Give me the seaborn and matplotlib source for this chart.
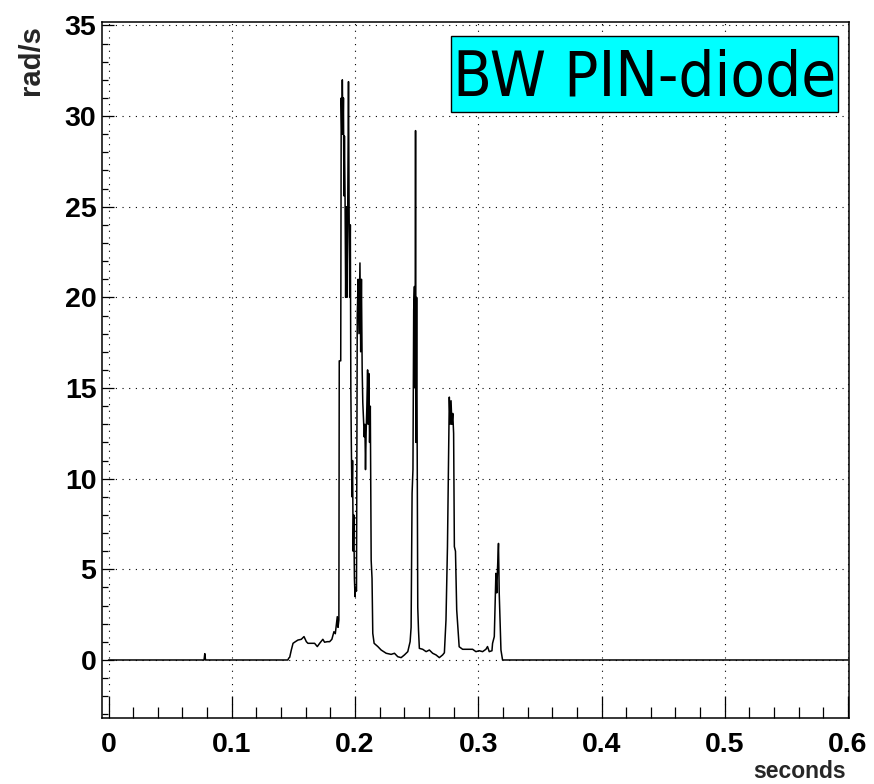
import matplotlib
matplotlib.use("Agg")
import matplotlib.pyplot as plt
from matplotlib.ticker import MultipleLocator, FixedLocator
from matplotlib.patches import Rectangle
import seaborn as sns
import pandas as pd

# ---- data ----
time_s = [
    0.000, 0.0775, 0.0781, 0.0787, 0.1455, 0.1462, 0.1470, 0.1483, 0.1497, 0.1516,
    0.1537, 0.1564, 0.1586, 0.1605, 0.1618, 0.1650, 0.1672, 0.1694, 0.1713, 0.1739,
    0.1753, 0.1775, 0.1794, 0.1812, 0.1829, 0.1840, 0.1848, 0.1856, 0.1862, 0.1869,
    0.1872, 0.1884, 0.1888, 0.1893, 0.1897, 0.1902, 0.1906, 0.1910, 0.1914, 0.1919,
    0.1924, 0.1929, 0.1934, 0.1940, 0.1947, 0.1952, 0.1957, 0.1962, 0.1966, 0.1970,
    0.1975, 0.1980, 0.1985, 0.1990, 0.1995, 0.2000, 0.2005, 0.2012, 0.2018, 0.2025,
    0.2032, 0.2040, 0.2046, 0.2052, 0.2058, 0.2063, 0.2070, 0.2075, 0.2080, 0.2085,
    0.2090, 0.2096, 0.2102, 0.2107, 0.2112, 0.2118, 0.2124, 0.2131, 0.2138, 0.2144,
    0.2155, 0.2185, 0.2212, 0.2253, 0.2293, 0.2320, 0.2347, 0.2374, 0.2401, 0.2428,
    0.2447, 0.2455, 0.2463, 0.2470, 0.2476, 0.2482, 0.2487, 0.2491, 0.2495, 0.2500,
    0.2505, 0.2509, 0.2515, 0.2522, 0.2549, 0.2577, 0.2603, 0.2630, 0.2657, 0.2684,
    0.2711, 0.2725, 0.2738, 0.2750, 0.2765, 0.2772, 0.2779, 0.2786, 0.2793, 0.2800,
    0.2806, 0.2815, 0.2825, 0.2845, 0.2873, 0.2954, 0.2981, 0.3008, 0.3035, 0.3062,
    0.3075, 0.3089, 0.3111, 0.3116, 0.3130, 0.3143, 0.3150, 0.3156, 0.3164, 0.3170,
    0.3184, 0.3197, 0.6000,
]
rad_per_s = [
    0.0, 0.0, 0.35, 0.0, 0.0, 0.10, 0.15, 0.55, 0.92, 1.01,
    1.10, 1.14, 1.29, 1.01, 0.92, 0.92, 0.92, 0.74, 0.92, 1.14,
    0.98, 1.01, 1.01, 1.14, 1.56, 1.45, 1.90, 2.39, 1.80, 2.20,
    16.5, 16.5, 31.0, 29.0, 32.0, 29.0, 31.0, 25.6, 28.9, 25.6,
    20.0, 25.0, 20.0, 24.0, 31.9, 24.7, 20.0, 24.0, 15.0, 11.9,
    9.0, 11.0, 6.0, 8.0, 4.5, 3.5, 4.0, 3.8, 19.0, 21.0,
    18.0, 21.9, 17.0, 21.0, 16.0, 14.2, 13.1, 12.3, 13.0, 10.5,
    12.5, 14.0, 16.0, 13.0, 15.8, 12.0, 14.0, 5.5, 4.5, 1.47,
    0.92, 0.74, 0.55, 0.37, 0.31, 0.37, 0.18, 0.13, 0.28, 0.46,
    1.01, 1.80, 9.2, 10.5, 19.3, 20.6, 15.0, 29.2, 12.0, 20.0,
    10.5, 2.9, 1.65, 0.64, 0.59, 0.46, 0.55, 0.37, 0.28, 0.13,
    0.28, 0.40, 2.2, 6.25, 14.5, 13.0, 14.3, 13.0, 13.6, 12.5,
    6.25, 6.0, 2.76, 0.73, 0.59, 0.59, 0.46, 0.51, 0.46, 0.59,
    0.74, 0.46, 0.51, 0.92, 1.29, 4.78, 3.7, 5.0, 6.43, 3.68,
    0.55, 0.0, 0.0,
]
x_ticks = [0.0, 0.1, 0.2, 0.3, 0.4, 0.5, 0.6]
x_tick_labels = ["0", "0.1", "0.2", "0.3", "0.4", "0.5", "0.6"]
y_ticks = [0, 5, 10, 15, 20, 25, 30, 35]
y_tick_labels = ["0", "5", "10", "15", "20", "25", "30", "35"]
x_title = "seconds"
y_title = "rad/s"
legend_text = "BW PIN-diode"

df = pd.DataFrame({"t": time_s, "v": rad_per_s})

sns.set_style("ticks")
plt.rcParams["font.family"] = ["Liberation Sans", "DejaVu Sans"]

W, H = 874, 784
fig = plt.figure(figsize=(W / 100, H / 100), dpi=100)
fig.patch.set_facecolor("white")
L, R, T, B = 102, 849, 22, 718
ax = fig.add_axes([L / W, 1 - B / H, (R - L) / W, (B - T) / H])

sns.lineplot(data=df, x="t", y="v", ax=ax, color="black", linewidth=1.1,
             estimator=None, sort=False)

ax.set_xlim(-0.0053, 0.6008)
ax.set_ylim(-3.2, 35.19)

ax.xaxis.set_major_locator(FixedLocator(x_ticks))
ax.set_xticklabels(x_tick_labels)
ax.xaxis.set_minor_locator(MultipleLocator(0.02))
ax.yaxis.set_major_locator(FixedLocator(y_ticks))
ax.set_yticklabels(y_tick_labels)
ax.yaxis.set_minor_locator(MultipleLocator(1))

ax.tick_params(axis="both", which="both", direction="in", color="black",
               top=False, right=False, width=0.9)
ax.tick_params(axis="x", which="major", length=16, pad=10)
ax.tick_params(axis="x", which="minor", length=8)
ax.tick_params(axis="y", which="major", length=8.5, pad=4)
ax.tick_params(axis="y", which="minor", length=4.5)
for lab in ax.get_xticklabels() + ax.get_yticklabels():
    lab.set_fontsize(20.5)
    lab.set_fontweight("bold")
    lab.set_color("black")

ax.grid(True, which="major", color="black", linestyle=(0, (1, 5)), linewidth=0.8)
for s in ax.spines.values():
    s.set_color("black")
    s.set_linewidth(1.1)

ax.set_xlabel("")
ax.set_ylabel("")
fig.text(846 / W, 1 - 772 / H, x_title, ha="right", va="center",
         fontsize=16.5, fontweight="bold")
fig.text(31 / W, 1 - 25 / H, y_title, ha="center", va="top", rotation=90,
         fontsize=21, fontweight="bold")

# legend box: cyan rectangle spanning pixels x 451-838, y 36-112
bx0, bx1, by0, by1 = 451, 838, 36, 112
fig.patches.append(Rectangle((bx0 / W, 1 - by1 / H), (bx1 - bx0) / W, (by1 - by0) / H,
                             transform=fig.transFigure, facecolor="#00FFFF",
                             edgecolor="black", linewidth=1.0, zorder=5))
fig.text((bx0 + bx1) / 2 / W, 1 - 96 / H, legend_text, ha="center", va="baseline",
         fontsize=45.5, family="DejaVu Sans", fontstretch="condensed",
         color="black", zorder=6)

fig.savefig("out.png", dpi=100, facecolor="white")
